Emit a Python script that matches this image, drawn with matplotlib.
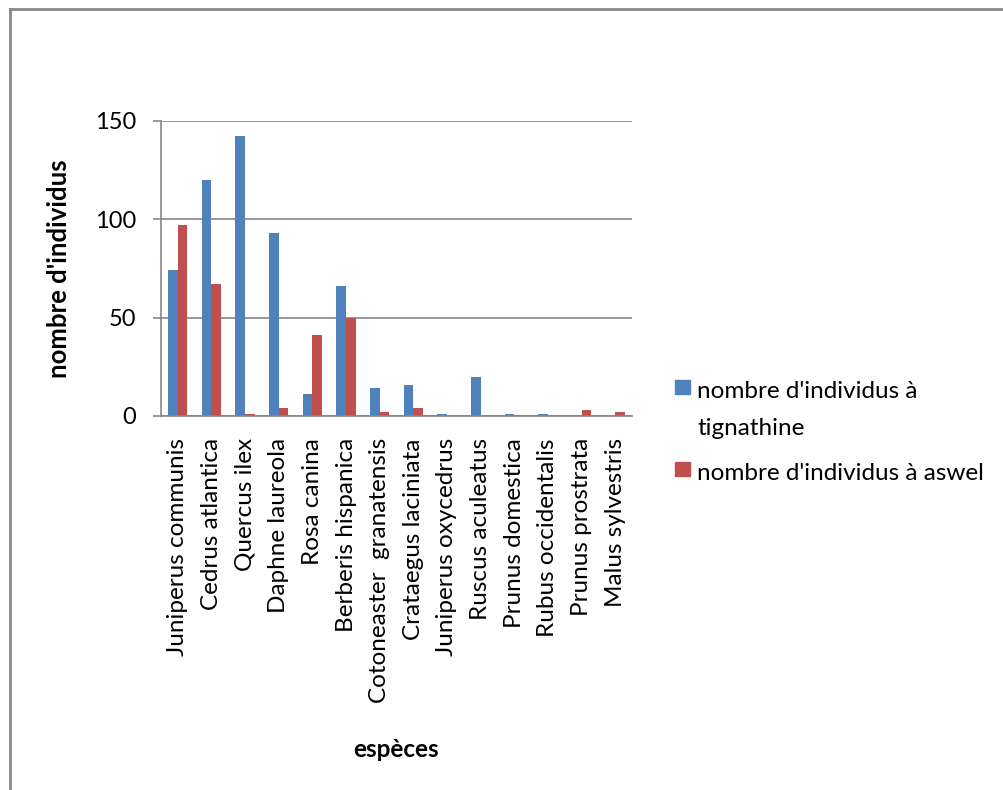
import matplotlib
matplotlib.use("Agg")
import matplotlib.pyplot as plt
from matplotlib.patches import Rectangle
from matplotlib.lines import Line2D
import numpy as np

plt.rcParams['font.family'] = ['Lato', 'DejaVu Sans']

species = [
    "Juniperus communis", "Cedrus atlantica", "Quercus ilex", "Daphne laureola",
    "Rosa canina", "Berberis hispanica", "Cotoneaster  granatensis",
    "Crataegus laciniata", "Juniperus oxycedrus", "Ruscus aculeatus",
    "Prunus domestica", "Rubus occidentalis", "Prunus prostrata", "Malus sylvestris",
]
tignathine = [74, 120, 142, 93, 11, 66, 14, 16, 1, 20, 1, 1, 0, 0]
aswel = [97, 67, 1, 4, 41, 50, 2, 4, 0, 0, 0, 0, 3, 2]
series_names = ["nombre d'individus à tignathine", "nombre d'individus à aswel"]
series_colors = ["#4F81BD", "#C0504D"]
y_ticks = [0, 50, 100, 150]

W, H = 1004, 790
fig = plt.figure(figsize=(W / 100, H / 100), dpi=100)

# outer chart frame
fig.add_artist(Line2D([9.5 / W, 9.5 / W], [0, 1 - 9 / H], transform=fig.transFigure,
                      color="#888888", lw=2.0))
fig.add_artist(Line2D([9.5 / W, 1], [1 - 9 / H, 1 - 9 / H], transform=fig.transFigure,
                      color="#888888", lw=2.0))

ax = fig.add_axes([161 / W, 1 - 416 / H, (632 - 161) / W, (416 - 120.7) / H])

x = np.arange(len(species))
bw = 1 / 3.5
ax.bar(x - bw / 2, tignathine, width=bw, color=series_colors[0], zorder=3)
ax.bar(x + bw / 2, aswel, width=bw, color=series_colors[1], zorder=3)

ax.set_xlim(-0.5, len(species) - 0.5)
ax.set_ylim(0, 150)
ax.set_yticks(y_ticks)
ax.set_yticklabels([str(v) for v in y_ticks], fontsize=17)
ax.set_xticks(x)
ax.set_xticklabels(species, rotation=90, fontsize=17.5)
ax.tick_params(axis='x', length=0, pad=16)
ax.tick_params(axis='y', length=6, width=1.2, color="#868686", pad=12)

ax.grid(axis='y', color="#868686", lw=1.2, zorder=0)
for side in ("top", "right"):
    ax.spines[side].set_visible(False)
for side in ("left", "bottom"):
    ax.spines[side].set_color("#868686")
    ax.spines[side].set_linewidth(1.2)
ax.spines["bottom"].set_zorder(4)

ax.set_ylabel("nombre d'individus", fontsize=18.5, fontweight='bold')
ax.yaxis.set_label_coords((71 - 161) / (632 - 161), 0.5)
fig.text(396 / W, 1 - 757 / H, "espèces", fontsize=17.5, fontweight='bold',
         ha='center', va='baseline')

# legend: colour key squares with wrapped series names
legend_lines = [["nombre d'individus à", "tignathine"], ["nombre d'individus à aswel"]]
legend_square_top = [380, 462]
line_gap = 37
for lines, top, color in zip(legend_lines, legend_square_top, series_colors):
    fig.add_artist(Rectangle((675 / W, 1 - (top + 14) / H), 15 / W, 14 / H,
                             transform=fig.transFigure, color=color))
    for i, line in enumerate(lines):
        fig.text(697 / W, 1 - (top + 18 + i * line_gap) / H, line, fontsize=17.5,
                 ha='left', va='baseline')

fig.savefig("out.png", dpi=100)
